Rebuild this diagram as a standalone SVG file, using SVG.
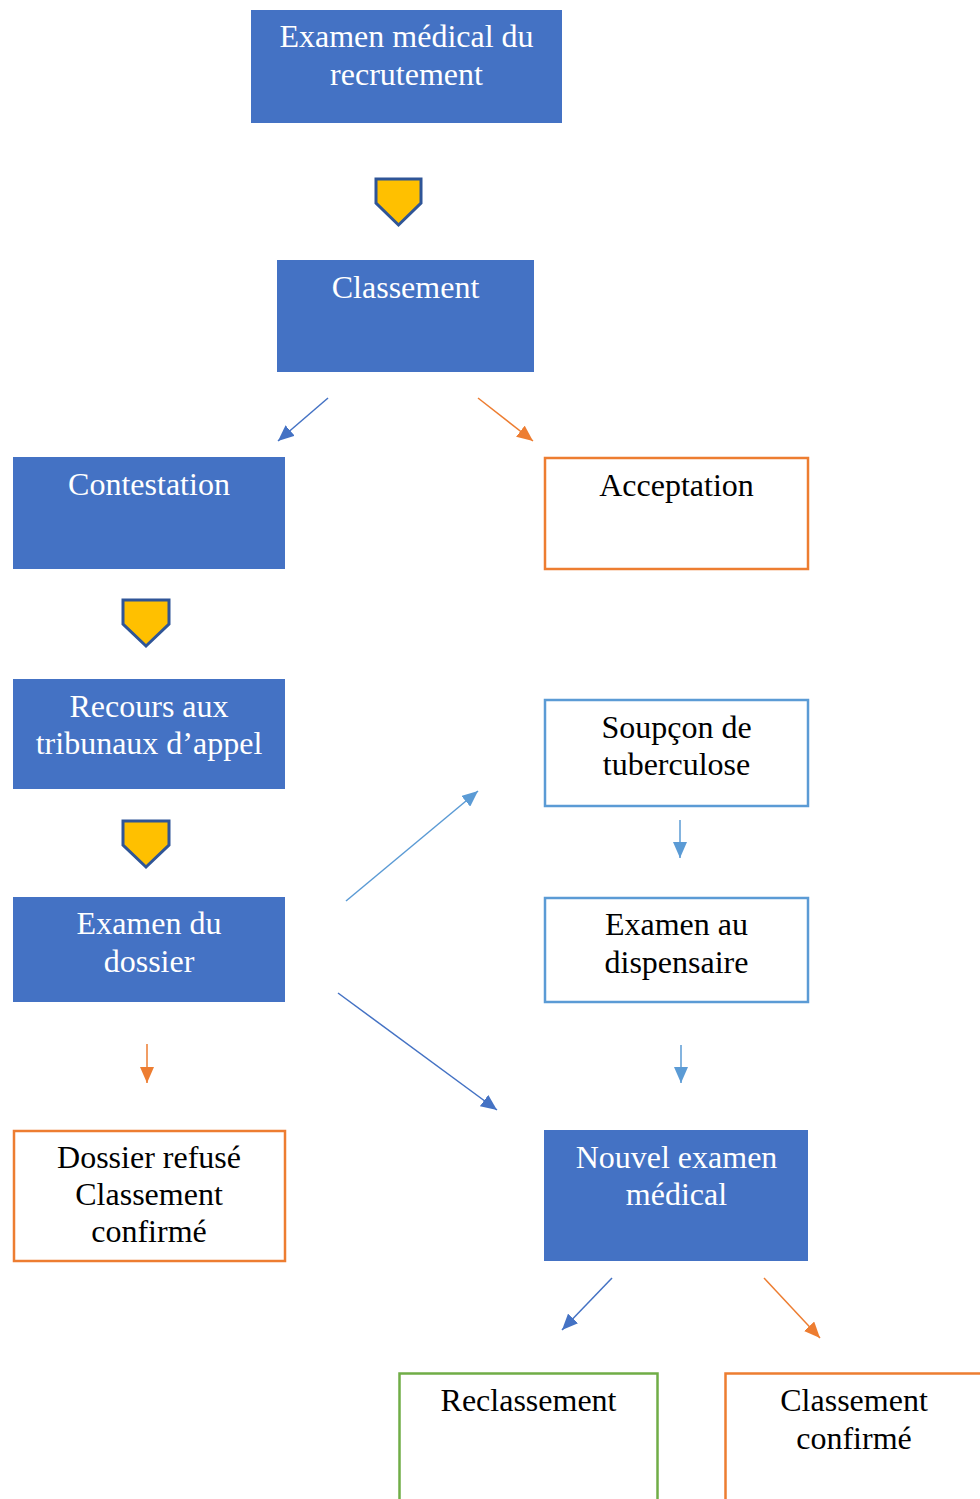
<svg xmlns="http://www.w3.org/2000/svg" width="980" height="1499" viewBox="0 0 980 1499">
<style>
.fill{fill:#4472C4;}
.t{font-family:"Liberation Serif","Times New Roman",serif;font-size:32px;text-anchor:middle;}
.w{fill:#FFFFFF;}
.k{fill:#000000;}
.ob{fill:#FFFFFF;stroke:#ED7D31;stroke-width:2.5;}
.lb{fill:#FFFFFF;stroke:#5B9BD5;stroke-width:2.5;}
.gb{fill:#FFFFFF;stroke:#70AD47;stroke-width:2.5;}
.pent{fill:#FFC000;stroke:#2F5597;stroke-width:3;stroke-linejoin:miter;}
.c{fill:none;stroke-width:1.5;}
</style>
<defs>
<marker id="ab" markerUnits="userSpaceOnUse" markerWidth="18" markerHeight="14" refX="16" refY="7" orient="auto"><path d="M0,0 L16,7 L0,14 Z" fill="#4472C4"/></marker>
<marker id="ao" markerUnits="userSpaceOnUse" markerWidth="18" markerHeight="14" refX="16" refY="7" orient="auto"><path d="M0,0 L16,7 L0,14 Z" fill="#ED7D31"/></marker>
<marker id="al" markerUnits="userSpaceOnUse" markerWidth="18" markerHeight="14" refX="16" refY="7" orient="auto"><path d="M0,0 L16,7 L0,14 Z" fill="#5B9BD5"/></marker>
</defs>
<rect width="980" height="1499" fill="#FFFFFF"/>

<g id="n1"><rect class="fill" x="251" y="10" width="311" height="113"/><text class="t w" x="406.5" y="47">Examen médical du</text><text class="t w" x="406.5" y="85">recrutement</text></g>
<g id="p1"><path class="pent" d="M376,179 L421,179 L421,203 L398.5,225 L376,203 Z"/></g>
<g id="n2"><rect class="fill" x="277" y="260" width="257" height="112"/><text class="t w" x="405.5" y="298">Classement</text></g>
<g id="n3"><rect class="fill" x="13" y="457" width="272" height="112"/><text class="t w" x="149" y="495">Contestation</text></g>
<g id="n4"><rect class="ob" x="545" y="458" width="263" height="111"/><text class="t k" x="676.5" y="496">Acceptation</text></g>
<g id="p2"><path class="pent" d="M123,600 L169,600 L169,624 L146,646 L123,624 Z"/></g>
<g id="n5"><rect class="fill" x="13" y="679" width="272" height="110"/><text class="t w" x="149" y="717">Recours aux</text><text class="t w" x="149" y="754">tribunaux d’appel</text></g>
<g id="n6"><rect class="lb" x="545" y="700" width="263" height="106"/><text class="t k" x="676.5" y="738">Soupçon de</text><text class="t k" x="676.5" y="775">tuberculose</text></g>
<g id="p3"><path class="pent" d="M123,821 L169,821 L169,845 L146,867 L123,845 Z"/></g>
<g id="n7"><rect class="fill" x="13" y="897" width="272" height="105"/><text class="t w" x="149" y="934">Examen du</text><text class="t w" x="149" y="972">dossier</text></g>
<g id="n8"><rect class="lb" x="545" y="898" width="263" height="104"/><text class="t k" x="676.5" y="935">Examen au</text><text class="t k" x="676.5" y="973">dispensaire</text></g>
<g id="n9"><rect class="ob" x="14" y="1131" width="271" height="130"/><text class="t k" x="149" y="1168">Dossier refusé</text><text class="t k" x="149" y="1205">Classement</text><text class="t k" x="149" y="1242">confirmé</text></g>
<g id="n10"><rect class="fill" x="544" y="1130" width="264" height="131"/><text class="t w" x="676.5" y="1168">Nouvel examen</text><text class="t w" x="676.5" y="1205">médical</text></g>
<g id="n11"><rect class="gb" x="399.5" y="1373.5" width="258" height="140"/><text class="t k" x="528.5" y="1411">Reclassement</text></g>
<g id="n12"><rect class="ob" x="725.5" y="1373.5" width="270" height="140"/><text class="t k" x="854" y="1411">Classement</text><text class="t k" x="854" y="1449">confirmé</text></g>

<g id="connectors">
<line class="c" stroke="#4472C4" x1="328" y1="398" x2="278" y2="441" marker-end="url(#ab)"/>
<line class="c" stroke="#ED7D31" x1="478" y1="398" x2="533" y2="441" marker-end="url(#ao)"/>
<line class="c" stroke="#5B9BD5" x1="346" y1="901" x2="478" y2="791" marker-end="url(#al)"/>
<line class="c" stroke="#4472C4" x1="338" y1="993" x2="497" y2="1110" marker-end="url(#ab)"/>
<line class="c" stroke="#5B9BD5" x1="680" y1="820" x2="680" y2="858" marker-end="url(#al)"/>
<line class="c" stroke="#5B9BD5" x1="681" y1="1045" x2="681" y2="1083" marker-end="url(#al)"/>
<line class="c" stroke="#ED7D31" x1="147" y1="1044" x2="147" y2="1083" marker-end="url(#ao)"/>
<line class="c" stroke="#4472C4" x1="612" y1="1278" x2="562" y2="1330" marker-end="url(#ab)"/>
<line class="c" stroke="#ED7D31" x1="764" y1="1278" x2="820" y2="1338" marker-end="url(#ao)"/>
</g>
</svg>
